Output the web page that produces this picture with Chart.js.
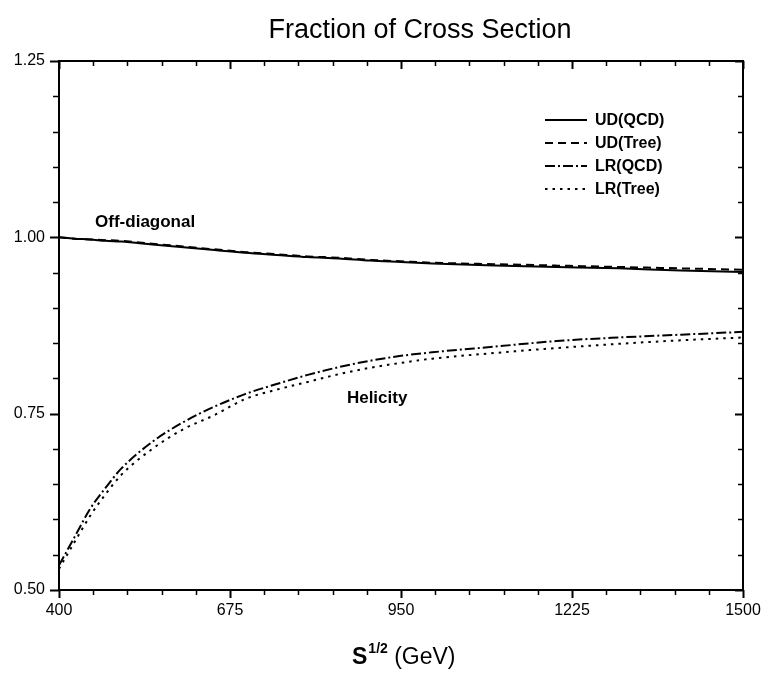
<!DOCTYPE html>
<html>
<head>
<meta charset="utf-8">
<title>Fraction of Cross Section</title>
<script src="https://cdn.jsdelivr.net/npm/chart.js@4"></script>
<style>
    html, body { margin: 0; padding: 0; background: #fff; }
    #wrap { width: 768px; height: 677px; }
</style>
</head>
<body>
<div id="wrap"><canvas id="cs-chart" width="768" height="677"></canvas></div>
<script>
// Fraction of cross section vs sqrt(s)
const energies = [400, 425, 450, 475, 500, 550, 600, 650, 700, 750, 800, 850, 900, 950, 1000, 1100, 1200, 1300, 1400, 1500];
const udQcd  = [1.000, 0.998, 0.997, 0.995, 0.994, 0.990, 0.986, 0.982, 0.978, 0.975, 0.972, 0.970, 0.967, 0.965, 0.963, 0.960, 0.958, 0.956, 0.953, 0.951];
const udTree = [1.000, 0.998, 0.997, 0.996, 0.995, 0.991, 0.987, 0.983, 0.979, 0.976, 0.973, 0.971, 0.968, 0.966, 0.964, 0.962, 0.960, 0.958, 0.956, 0.954];
const lrQcd  = [0.535, 0.575, 0.615, 0.645, 0.672, 0.710, 0.738, 0.760, 0.778, 0.792, 0.805, 0.816, 0.825, 0.832, 0.837, 0.845, 0.853, 0.858, 0.862, 0.866];
const lrTree = [0.530, 0.568, 0.605, 0.636, 0.663, 0.700, 0.728, 0.748, 0.771, 0.784, 0.795, 0.806, 0.815, 0.822, 0.828, 0.836, 0.843, 0.849, 0.854, 0.858];

const seriesNames = ["UD(QCD)", "UD(Tree)", "LR(QCD)", "LR(Tree)"];
const xTicks = [400, 675, 950, 1225, 1500];
const yTicks = [0.50, 0.75, 1.00, 1.25];

// text labels placed in data coordinates
const notes = [
    { text: "Off-diagonal", x: 458, y: 1.0146 },
    { text: "Helicity",     x: 863, y: 0.765 },
];

const FONT = "'Liberation Sans', Arial, sans-serif";

function toPoints(ys) {
    return energies.map((e, i) => ({ x: e, y: ys[i] }));
}

function makeSet(label, ys, dash) {
    return {
        label: label,
        data: toPoints(ys),
        borderColor: "#000",
        borderWidth: 2,
        borderDash: dash,
        pointRadius: 0,
        fill: false,
        cubicInterpolationMode: "monotone",
    };
}

// -----------------------------------------------------------------------
// Frame, inward/outward ticks, legend, notes, titles
// -----------------------------------------------------------------------
const decorPlugin = {
    id: "decor",
    afterDraw(chart) {
        const ctx = chart.ctx;
        const a = chart.chartArea;
        const xs = chart.scales.x;
        const ys = chart.scales.y;
        ctx.save();
        ctx.strokeStyle = "#000";
        ctx.fillStyle = "#000";

        // frame
        ctx.lineWidth = 2;
        ctx.setLineDash([]);
        ctx.strokeRect(a.left, a.top, a.right - a.left, a.bottom - a.top);

        // x ticks: 4 minor ticks between majors
        const xStep = (xTicks[1] - xTicks[0]) / 5;
        for (let i = 0; i <= (xs.max - xs.min) / xStep + 0.001; i++) {
            const v = xs.min + i * xStep;
            const px = Math.round(xs.getPixelForValue(v)) + 0.5;
            const major = i % 5 === 0;
            ctx.lineWidth = major ? 2 : 1.5;
            ctx.beginPath();
            ctx.moveTo(px, a.bottom);
            ctx.lineTo(px, a.bottom + (major ? 8 : 5));
            ctx.moveTo(px, a.top);
            ctx.lineTo(px, a.top + (major ? 8 : 5));
            ctx.stroke();
        }

        // y ticks
        const yStep = (yTicks[1] - yTicks[0]) / 5;
        for (let i = 0; i <= (ys.max - ys.min) / yStep + 0.001; i++) {
            const v = ys.min + i * yStep;
            const py = Math.round(ys.getPixelForValue(v)) + 0.5;
            const major = i % 5 === 0;
            ctx.lineWidth = major ? 2 : 1.5;
            ctx.beginPath();
            ctx.moveTo(a.left, py);
            ctx.lineTo(a.left - (major ? 9 : 6), py);
            ctx.moveTo(a.right, py);
            ctx.lineTo(a.right - (major ? 8 : 5), py);
            ctx.stroke();
        }

        // legend
        ctx.font = "bold 16px " + FONT;
        ctx.textBaseline = "middle";
        ctx.textAlign = "left";
        chart.data.datasets.forEach((ds, i) => {
            const y = a.top + 59 + i * 23;
            const x0 = 545;
            ctx.lineWidth = 2;
            ctx.setLineDash(ds.borderDash || []);
            ctx.beginPath();
            ctx.moveTo(x0, y);
            ctx.lineTo(x0 + 42, y);
            ctx.stroke();
            ctx.setLineDash([]);
            ctx.fillText(ds.label, x0 + 50, y + 1);
        });

        // notes
        ctx.font = "bold 17px " + FONT;
        ctx.textBaseline = "alphabetic";
        notes.forEach((n) => {
            ctx.fillText(n.text, xs.getPixelForValue(n.x), ys.getPixelForValue(n.y));
        });

        // title
        ctx.font = "27px " + FONT;
        ctx.textAlign = "center";
        ctx.textBaseline = "middle";
        ctx.fillText("Fraction of Cross Section", 420, 31);

        // x axis title: S^{1/2} (GeV)
        ctx.textAlign = "left";
        ctx.textBaseline = "alphabetic";
        let x = 352;
        ctx.font = "bold 23px " + FONT;
        ctx.fillText("S", x, 664);
        x += ctx.measureText("S").width + 1;
        ctx.font = "bold 14px " + FONT;
        ctx.fillText("1/2", x, 653);
        x += ctx.measureText("1/2").width;
        ctx.font = "23px " + FONT;
        ctx.fillText(" (GeV)", x, 664);

        ctx.restore();
    },
};

new Chart(document.getElementById("cs-chart").getContext("2d"), {
    type: "line",
    data: {
        datasets: [
            makeSet(seriesNames[0], udQcd, []),
            makeSet(seriesNames[1], udTree, [8, 5]),
            makeSet(seriesNames[2], lrQcd, [10, 3, 2, 3]),
            makeSet(seriesNames[3], lrTree, [2.5, 5]),
        ],
    },
    options: {
        responsive: false,
        animation: false,
        devicePixelRatio: 1,
        layout: { padding: { top: 61, right: 25, left: 0, bottom: 0 } },
        plugins: {
            legend: { display: false },
            title: { display: false },
            tooltip: { enabled: false },
        },
        scales: {
            x: {
                type: "linear",
                min: 400,
                max: 1500,
                afterBuildTicks(scale) { scale.ticks = xTicks.map((v) => ({ value: v })); },
                afterFit(scale) {
                    scale.height = 87;
                    scale.paddingLeft = 0;
                    scale.paddingRight = 0;
                },
                grid: { display: false, drawTicks: false },
                border: { display: false },
                ticks: {
                    color: "#000",
                    font: { family: FONT, size: 16 },
                    padding: 11,
                    maxRotation: 0,
                    callback: (v) => String(v),
                },
            },
            y: {
                min: 0.5,
                max: 1.25,
                afterBuildTicks(scale) { scale.ticks = yTicks.map((v) => ({ value: v })); },
                afterFit(scale) {
                    scale.width = 59;
                    scale.paddingTop = 0;
                    scale.paddingBottom = 0;
                },
                grid: { display: false, drawTicks: false },
                border: { display: false },
                ticks: {
                    color: "#000",
                    font: { family: FONT, size: 16 },
                    padding: 14,
                    callback: (v) => v.toFixed(2),
                },
            },
        },
    },
    plugins: [decorPlugin],
});
</script>
</body>
</html>
